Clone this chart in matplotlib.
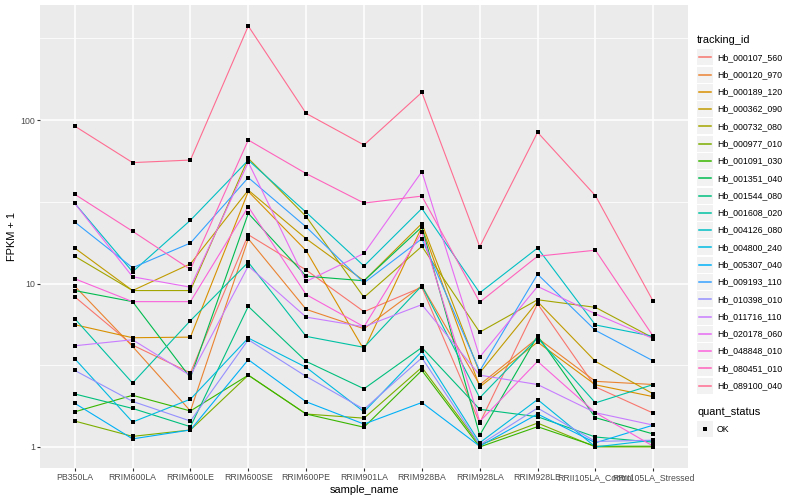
import numpy as np
import matplotlib
matplotlib.use("Agg")
import matplotlib.pyplot as plt
from matplotlib.patches import Rectangle
from matplotlib.lines import Line2D

plt.rcParams['font.family'] = ['Liberation Sans', 'DejaVu Sans']

samples = ['PB350LA', 'RRIM600LA', 'RRIM600LE', 'RRIM600SE', 'RRIM600PE',
           'RRIM901LA', 'RRIM928BA', 'RRIM928LA', 'RRIM928LE',
           'RRII105LA_Control', 'RRII105LA_Stressed']

tracking_ids = ['Hb_000107_560', 'Hb_000120_970', 'Hb_000189_120', 'Hb_000362_090',
                'Hb_000732_080', 'Hb_000977_010', 'Hb_001091_030', 'Hb_001351_040',
                'Hb_001544_080', 'Hb_001608_020', 'Hb_004126_080', 'Hb_004800_240',
                'Hb_005307_040', 'Hb_009193_110', 'Hb_010398_010', 'Hb_011716_110',
                'Hb_020178_060', 'Hb_048848_010', 'Hb_080451_010', 'Hb_089100_040']

# ggplot default hue palette for 20 levels
colors = ['#F8766D', '#EA8331', '#D89000', '#C09B00', '#A3A500', '#7CAE00', '#39B600',
          '#00BB4E', '#00BF7D', '#00C1A3', '#00BFC4', '#00BAE0', '#00B0F6', '#35A2FF',
          '#9590FF', '#C77CFF', '#E76BF3', '#FA62DB', '#FF62BC', '#FF6C91']

# FPKM + 1, one row per tracking_id, columns follow samples
fpkm = [
    [8.3, 4.2, 2.84, 19.9, 12.1, 6.73, 9.5, 1.40, 7.52, 2.33, 1.61],
    [9.65, 4.12, 1.66, 18.8, 6.95, 5.29, 9.7, 2.40, 4.64, 2.52, 2.41],
    [5.6, 4.66, 4.7, 36.6, 15.9, 3.93, 22.2, 2.33, 4.38, 2.40, 2.03],
    [16.5, 9.06, 13.2, 37.3, 18.8, 10.4, 23.3, 2.84, 7.75, 3.34, 2.11],
    [14.7, 9.06, 9.06, 58.4, 25.7, 8.23, 16.9, 5.04, 7.96, 7.15, 4.64],
    [1.44, 1.16, 1.27, 2.75, 1.59, 1.50, 3.07, 1.03, 1.40, 1.00, 1.00],
    [1.64, 2.07, 1.66, 2.75, 1.59, 1.32, 2.94, 1.00, 1.33, 1.01, 1.01],
    [9.06, 7.75, 2.65, 26.9, 11.1, 10.4, 22.2, 1.18, 4.79, 1.51, 1.20],
    [2.11, 1.72, 1.33, 7.25, 3.34, 2.27, 4.06, 1.70, 1.53, 1.15, 1.07],
    [6.1, 2.46, 5.93, 13.5, 4.75, 4.07, 9.7, 2.00, 4.64, 1.86, 2.41],
    [31.0, 11.8, 24.4, 56.9, 27.3, 12.8, 28.8, 8.77, 16.5, 5.58, 4.75],
    [3.47, 1.42, 1.96, 4.64, 3.07, 1.64, 3.84, 1.06, 1.95, 1.00, 1.10],
    [1.85, 1.12, 1.27, 3.42, 1.89, 1.38, 1.87, 1.01, 1.59, 1.06, 1.36],
    [23.8, 12.5, 17.7, 44.5, 22.2, 10.1, 18.8, 2.92, 11.4, 5.17, 3.36],
    [2.94, 1.90, 1.44, 4.53, 2.70, 1.70, 3.51, 1.03, 1.73, 1.08, 1.10],
    [4.16, 4.53, 2.73, 12.8, 6.23, 5.44, 7.43, 2.75, 2.41, 1.62, 1.36],
    [31.0, 11.0, 9.5, 55.3, 10.3, 15.3, 48.4, 3.55, 9.6, 6.53, 4.60],
    [10.7, 7.75, 7.75, 29.5, 8.56, 5.44, 20.6, 1.43, 3.34, 1.62, 1.01],
    [35.2, 20.9, 12.2, 75.6, 47.1, 31.1, 34.3, 7.69, 14.7, 16.0, 4.75],
    [92, 55, 57, 377, 110, 70.5, 148, 16.8, 84.3, 34.5, 7.77],
]

W, H = 800, 500
fig = plt.figure(figsize=(8, 5), dpi=100)
ax = fig.add_axes([40 / W, 32 / H, 648 / W, 463 / H])
ax.set_facecolor('#EBEBEB')

x = np.arange(len(samples))
for vals, col in zip(fpkm, colors):
    ax.plot(x, vals, color=col, lw=0.8, zorder=2)
for vals in fpkm:
    ax.plot(x, vals, ls='none', marker='s', ms=3, mew=0, color='black', zorder=3)

ax.set_yscale('log')
ax.set_ylim(10 ** -0.129, 10 ** 2.705)
ax.set_xlim(-0.6, len(samples) - 0.4)
ax.set_yticks([1, 10, 100])
ax.set_yticklabels(['1', '10', '100'])
ax.set_yticks([10 ** 0.5, 10 ** 1.5, 10 ** 2.5], minor=True)
ax.yaxis.set_minor_formatter(matplotlib.ticker.NullFormatter())
ax.set_xticks(x)
ax.set_xticklabels(samples)

ax.grid(True, which='major', color='white', lw=1.1)
ax.grid(True, which='minor', axis='y', color='white', lw=0.55)
ax.set_axisbelow(True)
for s in ax.spines.values():
    s.set_visible(False)
ax.tick_params(which='major', length=2.2, width=0.8, color='#333333',
               labelcolor='#4D4D4D', labelsize=6.3, pad=1.5)
ax.tick_params(which='minor', length=0)

ax.set_xlabel('sample_name', fontsize=7.9, labelpad=2)
ax.set_ylabel('FPKM + 1', fontsize=7.9, labelpad=2)

# legend drawn in ggplot style
fig.text(697 / W, 1 - 40 / H, 'tracking_id', fontsize=7.9, va='center', ha='left')
for i, (tid, col) in enumerate(zip(tracking_ids, colors)):
    yc = 57.3 + i * 17.28
    fig.add_artist(Rectangle((697 / W, 1 - (yc + 8) / H), 16 / W, 16 / H,
                             transform=fig.transFigure, facecolor='#F2F2F2',
                             edgecolor='none', zorder=1))
    fig.add_artist(Line2D([698.5 / W, 711 / W], [1 - yc / H] * 2, color=col, lw=1.1,
                          transform=fig.transFigure, zorder=3))
    fig.text(717 / W, 1 - yc / H, tid, fontsize=6.3, va='center', ha='left')

fig.text(697 / W, 1 - 412 / H, 'quant_status', fontsize=7.9, va='center', ha='left')
fig.add_artist(Rectangle((697 / W, 1 - 437 / H), 16 / W, 16 / H,
                         transform=fig.transFigure, facecolor='#F2F2F2',
                         edgecolor='none', zorder=1))
fig.add_artist(Line2D([705 / W], [1 - 429 / H], ls='none', marker='s', ms=3, mew=0,
                      color='black', transform=fig.transFigure, zorder=3))
fig.text(717 / W, 1 - 429 / H, 'OK', fontsize=6.3, va='center', ha='left')

fig.savefig('out.png', dpi=100)
